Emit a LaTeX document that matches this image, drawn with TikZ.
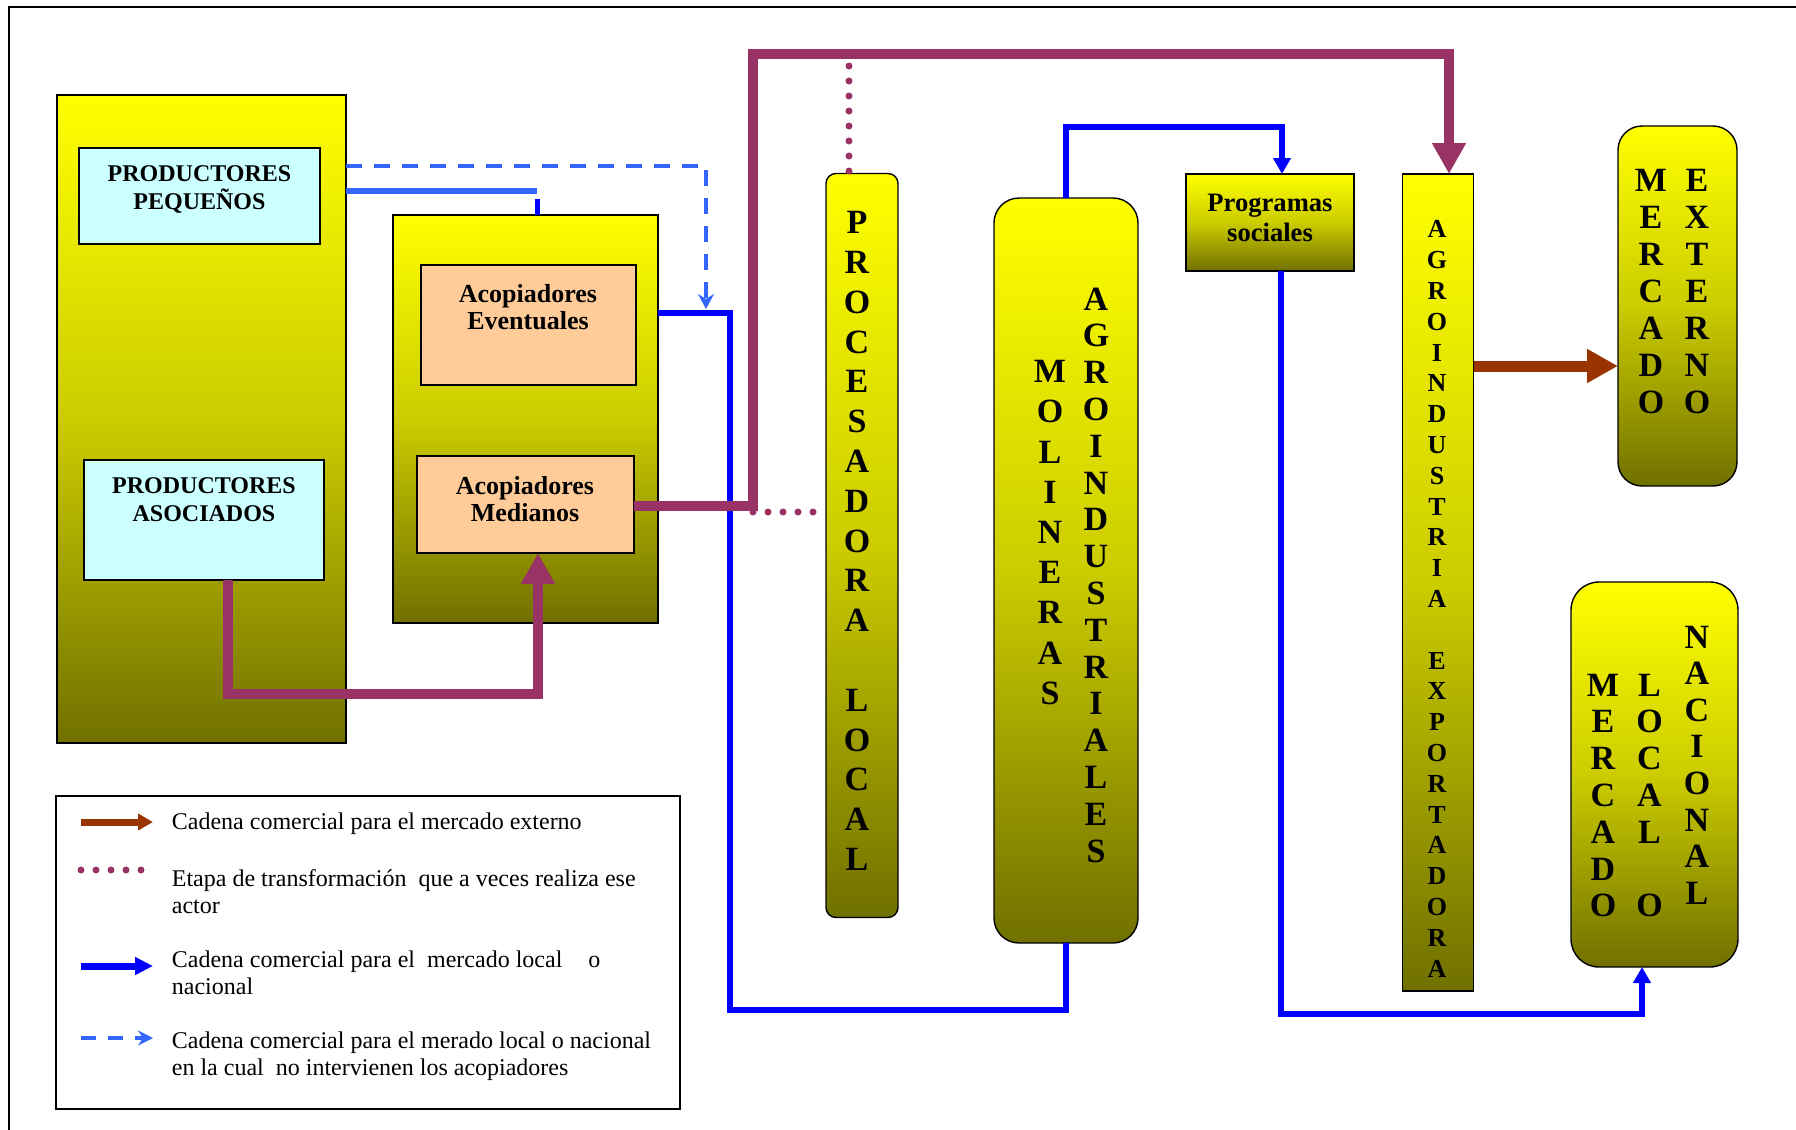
\documentclass[tikz,border=0pt]{standalone}
\usepackage{fontspec}
\setmainfont{Liberation Serif}
\usetikzlibrary{arrows.meta}
\definecolor{purp}{HTML}{993366}
\definecolor{brn}{HTML}{993300}
\definecolor{bluA}{HTML}{0000FF}
\definecolor{bluL}{HTML}{3366FF}
\definecolor{cyanL}{HTML}{CCFFFF}
\definecolor{peach}{HTML}{FFCC99}
\definecolor{olvM}{rgb}{0.80,0.80,0}
\definecolor{olvB}{rgb}{0.44,0.44,0}
\tikzset{
  gbox/.style={draw=black, line width=0.7pt, top color=yellow, bottom color=olvB, middle color=olvM, inner sep=0pt, outer sep=0pt},
  cbox/.style={draw=black, line width=0.7pt, fill=cyanL, inner sep=0pt, outer sep=0pt},
  pbox/.style={draw=black, line width=0.7pt, fill=peach, inner sep=0pt, outer sep=0pt},
  lbl/.style={align=center, inner sep=0pt},
  vt/.style={align=center, inner sep=0pt},
  legt/.style={align=left, inner sep=0pt, anchor=north west, font=\fontsize{12}{13.25}\selectfont},
  purpline/.style={draw=purp, line width=5pt},
  bigtip/.style={-{Triangle[length=15.5pt,width=16pt]}},
  blueline/.style={draw=bluA, line width=3pt},
  bluetip/.style={-{Triangle[length=8pt,width=8.5pt]}},
  dashline/.style={draw=bluL, line width=1.75pt, dash pattern=on 8pt off 6pt},
  dashtip/.style={-{Stealth[length=7.5pt,width=8pt,inset=2.5pt]}},
  dotline/.style={draw=purp, line width=3.5pt, line cap=round, dash pattern=on 0pt off 7.5pt},
  brnline/.style={draw=brn, line width=5.5pt},
}
\begin{document}
\begin{tikzpicture}[x=0.5pt,y=-0.5pt]
\useasboundingbox (0,0) rectangle (1796,1130);
% outer frame
\coordinate (fa) at (9,1130);
\coordinate (fb) at (9,7);
\coordinate (fc) at (1796,7);
\draw[line width=1pt] (fa) -- (fb) -- (fc);

% boxes
\node[gbox, minimum width=144.5pt, minimum height=324pt] (bigL) at (201.5,419) {};
\node[cbox, minimum width=120.5pt, minimum height=48pt] (pp) at (199.5,196) {};
\node[cbox, minimum width=120pt, minimum height=60pt] (pa) at (204,520) {};
\node[gbox, minimum width=132.5pt, minimum height=204pt] (acoC) at (525.5,419) {};
\node[pbox, minimum width=107.5pt, minimum height=60pt] (acoE) at (528.5,325) {};
\node[pbox, minimum width=108.5pt, minimum height=48.5pt] (acoM) at (525.5,504.5) {};
\node[gbox, rounded corners=5pt, minimum width=36pt, minimum height=372pt] (proc) at (862,545.5) {};
\node[gbox, rounded corners=12.5pt, minimum width=72pt, minimum height=372.5pt] (mol) at (1066,570.5) {};
\node[gbox, minimum width=84pt, minimum height=48.5pt] (prog) at (1270,222.5) {};
\node[gbox, minimum width=35.5pt, minimum height=408.5pt] (agro) at (1438,582.5) {};
\node[gbox, rounded corners=12pt, minimum width=59.5pt, minimum height=180pt] (mext) at (1677.5,306) {};
\node[gbox, rounded corners=14pt, minimum width=83.5pt, minimum height=192.5pt] (mnac) at (1654.5,774.5) {};
\node[draw=black, line width=0.75pt, inner sep=0pt, minimum width=312pt, minimum height=156.5pt] (leg) at (368,952.5) {};

% box labels
\node[lbl, font=\bfseries\fontsize{12}{14}\selectfont] (ppT) at (199.5,189.5) {PRODUCTORES\\PEQUEÑOS};
\node[lbl, font=\bfseries\fontsize{12}{14}\selectfont] (paT) at (204,500) {PRODUCTORES\\ASOCIADOS};
\node[lbl, font=\bfseries\fontsize{13}{13.5}\selectfont] (acoET) at (528,307) {Acopiadores\\Eventuales};
\node[lbl, font=\bfseries\fontsize{13}{13.5}\selectfont] (acoMT) at (525,499) {Acopiadores\\Medianos};
\node[lbl, font=\bfseries\fontsize{13.3}{15}\selectfont] (progT) at (1270,218) {Programas\\sociales};

% vertical labels
\node[vt, font=\bfseries\fontsize{17}{19.9}\selectfont] (procT) at (857,541) {P\\R\\O\\C\\E\\S\\A\\D\\O\\R\\A\\\mbox{}\\L\\O\\C\\A\\L};
\node[vt, font=\bfseries\fontsize{17}{20.1}\selectfont] (molT) at (1050,532.5) {M\\O\\L\\I\\N\\E\\R\\A\\S};
\node[vt, font=\bfseries\fontsize{17}{18.4}\selectfont] (agiT) at (1096,575) {A\\G\\R\\O\\I\\N\\D\\U\\S\\T\\R\\I\\A\\L\\E\\S};
\node[vt, font=\bfseries\fontsize{13}{15.4}\selectfont] (agroT) at (1437,599) {A\\G\\R\\O\\I\\N\\D\\U\\S\\T\\R\\I\\A\\\mbox{}\\E\\X\\P\\O\\R\\T\\A\\D\\O\\R\\A};
\node[vt, font=\bfseries\fontsize{17}{18.5}\selectfont] (mextA) at (1651,292) {M\\E\\R\\C\\A\\D\\O};
\node[vt, font=\bfseries\fontsize{17}{18.5}\selectfont] (mextB) at (1697,292) {E\\X\\T\\E\\R\\N\\O};
\node[vt, font=\bfseries\fontsize{17}{18.4}\selectfont] (mnacA) at (1603,795.5) {M\\E\\R\\C\\A\\D\\O};
\node[vt, font=\bfseries\fontsize{17}{18.4}\selectfont] (mnacB) at (1649.5,795.5) {L\\O\\C\\A\\L\\\mbox{}\\O};
\node[vt, font=\bfseries\fontsize{17}{18.3}\selectfont] (mnacC) at (1697,765) {N\\A\\C\\I\\O\\N\\A\\L};

% connectors
\coordinate (c1) at (537,191);
\coordinate (c1b) at (537,199);
\draw[draw=bluL, line width=3pt] (bigL.east |- c1) -- (c1);
\draw[blueline, line width=2.5pt] (c1b) -- (c1b |- acoC.north);

\coordinate (d1) at (706,166);
\coordinate (d2) at (706,309);
\draw[dashline, dashtip] (bigL.east |- d1) -- (d1) -- (d2);

\coordinate (b1) at (730,313);
\coordinate (b2) at (730,1010);
\draw[blueline] (acoC.east |- b1) -- (b1) -- (b2) -- (b2 -| mol.south) -- (mol.south);

\coordinate (b4) at (1282,127);
\draw[blueline, bluetip] (mol.north) -- (mol.north |- b4) -- (b4) -- (b4 |- prog.north);

\coordinate (b5) at (1281,1014);
\coordinate (b6) at (1642,1014);
\draw[blueline, bluetip] (b5 |- prog.south) -- (b5) -- (b6) -- (b6 |- mnac.south);

\coordinate (p1) at (753,506);
\coordinate (p2) at (753,54);
\coordinate (p3) at (1449,54);
\draw[purpline, bigtip] (acoM.east |- p1) -- (p1) -- (p2) -- (p3) -- (p3 |- agro.north);

\coordinate (q1) at (753,512);
\coordinate (q2) at (849,66);
\draw[dotline] (q1) -- (proc.west |- q1);
\draw[dotline] (q2) -- (q2 |- proc.north);

\coordinate (p4) at (228,694);
\coordinate (p5) at (538,694);
\draw[purpline, bigtip] (p4 |- pa.south) -- (p4) -- (p5) -- (p5 |- acoM.south);

\coordinate (r1) at (1480,366);
\draw[brnline, bigtip] (agro.east |- r1) -- (mext.west |- r1);

% legend
\coordinate (l1a) at (81,822);
\coordinate (l1b) at (153,822);
\coordinate (l2a) at (81,870);
\coordinate (l2b) at (142,870);
\coordinate (l3a) at (81,966);
\coordinate (l3b) at (153,966);
\coordinate (l4a) at (81,1038);
\coordinate (l4b) at (153,1038);
\draw[draw=brn, line width=3.5pt, -{Triangle[length=7.5pt,width=8pt]}] (l1a) -- (l1b);
\draw[dotline] (l2a) -- (l2b);
\draw[blueline, line width=3.5pt, -{Triangle[length=9pt,width=8.5pt]}] (l3a) -- (l3b);
\draw[draw=bluL, line width=2pt, dash pattern=on 7.5pt off 6pt, -{Stealth[length=7.5pt,width=7.5pt,inset=2.5pt]}] (l4a) -- (l4b);

\node[legt] (lt1) at (171.5,812.6) {Cadena comercial para el mercado externo};
\node[legt] (lt2) at (171.5,869.6) {Etapa de transformación\ \ que a veces realiza ese\\actor};
\node[legt] (lt3) at (171.5,950.6) {Cadena comercial para el\ \ mercado local\hspace{13pt}o\\nacional};
\node[legt] (lt4) at (171.5,1031.6) {Cadena comercial para el merado local o nacional\\en la cual\ \ no intervienen los acopiadores};
\end{tikzpicture}
\end{document}
